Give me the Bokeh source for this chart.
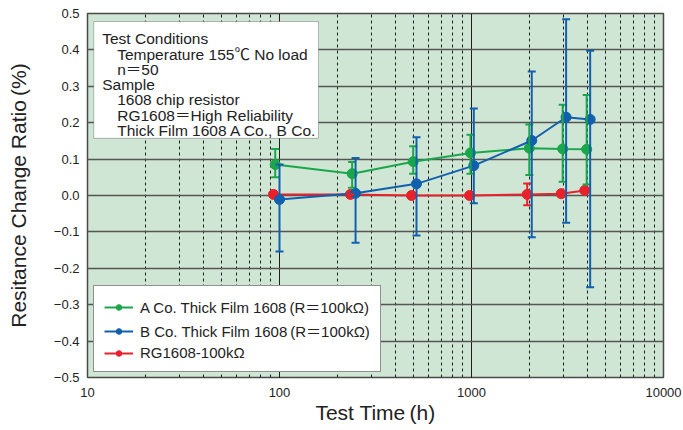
from bokeh.plotting import figure
from bokeh.models import (ColumnDataSource, Whisker, TeeHead, Legend, LegendItem,
                          BoxAnnotation, Label, CustomJSTickFormatter, FixedTicker,
                          NumeralTickFormatter, LogTicker)
from bokeh.embed import file_html
from bokeh.resources import INLINE

# ---------------- data ----------------
a_time = [95, 239, 497, 988, 2000, 2985, 3980]
a_mean = [0.085, 0.060, 0.093, 0.117, 0.130, 0.128, 0.127]
a_upper = [0.128, 0.092, 0.135, 0.167, 0.195, 0.249, 0.276]
a_lower = [0.050, 0.021, 0.060, 0.060, 0.056, 0.038, 0.030]

b_time = [100, 249, 517, 1028, 2060, 3110, 4150]
b_mean = [-0.011, 0.006, 0.032, 0.082, 0.151, 0.215, 0.209]
b_upper = [0.085, 0.103, 0.160, 0.239, 0.341, 0.484, 0.398]
b_lower = [-0.154, -0.130, -0.110, -0.021, -0.115, -0.075, -0.252]

r_time = [93, 234, 487, 977, 1950, 2930, 3890]
r_mean = [0.003, 0.003, 0.000, 0.000, 0.003, 0.005, 0.014]
r_upper = [0.003, 0.003, 0.000, 0.000, 0.033, 0.005, 0.014]
r_lower = [0.003, 0.003, 0.000, 0.000, -0.027, 0.005, 0.014]

series_names = ["A Co. Thick Film 1608\u2009(R＝100kΩ)",
                "B Co. Thick Film 1608\u2009(R＝100kΩ)",
                "RG1608-100kΩ"]
y_ticks = [-0.5, -0.4, -0.3, -0.2, -0.1, 0.0, 0.1, 0.2, 0.3, 0.4, 0.5]
note_lines = ["Test Conditions",
              "Temperature 155℃ No load",
              "n＝50",
              "Sample",
              "1608 chip resistor",
              "RG1608＝High Reliability",
              "Thick Film 1608 A Co., B Co."]
note_indent = [False, True, True, False, True, True, True]

GREEN = "#1aa64b"
BLUE = "#1160ae"
RED = "#e8212b"
FONT = "'Liberation Sans', 'Noto Sans CJK JP', sans-serif"

# ---------------- figure ----------------
p = figure(width=683, height=430, x_axis_type="log",
           x_range=(10, 10000), y_range=(-0.5, 0.5),
           output_backend="svg", toolbar_location=None,
           min_border_left=87, min_border_right=20,
           min_border_top=13, min_border_bottom=53)
p.background_fill_color = "#cfe6d5"
p.border_fill_color = "white"
p.outline_line_color = "#4a4a4a"
p.outline_line_width = 1.5

# axes
p.xaxis.ticker = LogTicker(num_minor_ticks=10)
p.xaxis.formatter = NumeralTickFormatter(format="0")
p.yaxis.ticker = FixedTicker(ticks=y_ticks)
p.yaxis.formatter = CustomJSTickFormatter(
    code="if (Math.abs(tick) < 1e-9) { return '0.0'; } "
         "return (tick < 0 ? '\u2212' : '') + Math.abs(tick).toFixed(1);")
for ax in (p.xaxis[0], p.yaxis[0]):
    ax.axis_line_color = None
    ax.major_tick_out = 0
    ax.major_tick_in = 0
    ax.minor_tick_out = 0
    ax.minor_tick_in = 0
    ax.major_label_text_font = FONT
    ax.major_label_text_font_size = "13px"
    ax.major_label_text_color = "#222222"
    ax.axis_label_text_font = FONT
    ax.axis_label_text_font_style = "normal"
    ax.axis_label_text_color = "#222222"
p.xaxis.axis_label = "Test Time\u2009(h)"
p.xaxis.axis_label_text_font_size = "21px"
p.xaxis.major_label_standoff = 10
p.xaxis.axis_label_standoff = 1
p.yaxis.axis_label = "Resitance Change Ratio\u2009(%)"
p.yaxis.axis_label_text_font_size = "21px"
p.yaxis.major_label_standoff = 8
p.yaxis.axis_label_standoff = 21

# grids
p.xgrid.grid_line_color = "#1e1e1e"
p.xgrid.grid_line_width = 1
p.xgrid.minor_grid_line_color = "#1e1e1e"
p.xgrid.minor_grid_line_dash = "3 3"
p.xgrid.minor_grid_line_width = 1
p.ygrid.grid_line_color = "#555555"
p.ygrid.grid_line_width = 1.4

# ---------------- error bars ----------------
def add_whisker(t, upper, lower, color):
    src = ColumnDataSource(dict(x=t, upper=upper, lower=lower))
    w = Whisker(source=src, base="x", upper="upper", lower="lower",
                dimension="height", line_color=color, line_width=2,
                level="glyph",
                upper_head=TeeHead(size=8, line_color=color, line_width=2),
                lower_head=TeeHead(size=8, line_color=color, line_width=2))
    p.add_layout(w)

add_whisker(r_time, r_upper, r_lower, RED)
add_whisker(a_time, a_upper, a_lower, GREEN)
add_whisker(b_time, b_upper, b_lower, BLUE)

# ---------------- lines & markers ----------------
items = []
renderers = {}
for name, t, m, c in [(series_names[2], r_time, r_mean, RED),
                      (series_names[0], a_time, a_mean, GREEN),
                      (series_names[1], b_time, b_mean, BLUE)]:
    src = ColumnDataSource(dict(x=t, y=m))
    ln = p.line("x", "y", source=src, line_color=c, line_width=2)
    sc = p.scatter("x", "y", source=src, marker="circle", size=10,
                   fill_color=c, line_color=c)
    renderers[name] = [ln, sc]

for name in series_names:
    items.append(LegendItem(label=name, renderers=renderers[name]))

legend = Legend(items=items, location=(6, 5), margin=0, padding=10,
                spacing=3, glyph_width=29, glyph_height=14, label_height=14,
                label_standoff=7, label_text_font=FONT,
                label_text_font_size="15px", label_text_color="#222222",
                border_line_color="#222222", border_line_width=1,
                background_fill_color="white", background_fill_alpha=1)
p.add_layout(legend)

# ---------------- notes box ----------------
box = BoxAnnotation(left=10.78, right=159.6, top=0.478, bottom=0.157,
                    fill_color="white", fill_alpha=1,
                    line_color="#222222", line_width=1)
p.add_layout(box)
baselines = [0.4306, 0.3886, 0.3465, 0.3045, 0.2625, 0.2204, 0.1783]
for txt, ind, yb in zip(note_lines, note_indent, baselines):
    lab = Label(x=14.28 if ind else 11.93, y=yb, text=txt,
                text_font=FONT, text_font_size="15.5px",
                text_color="#222222", text_baseline="alphabetic")
    p.add_layout(lab)

open("out.html", "w").write(file_html(p, INLINE))
